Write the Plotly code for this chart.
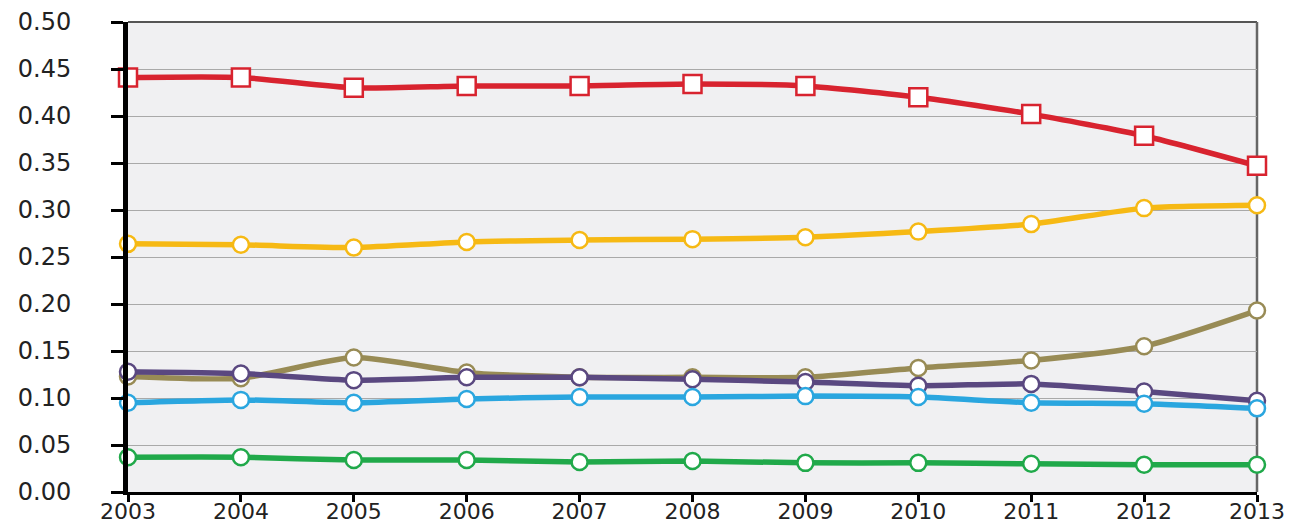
import plotly.graph_objects as go

years = [2003, 2004, 2005, 2006, 2007, 2008, 2009, 2010, 2011, 2012, 2013]

red    = [0.441, 0.441, 0.430, 0.432, 0.432, 0.434, 0.432, 0.420, 0.402, 0.379, 0.347]
yellow = [0.264, 0.263, 0.260, 0.266, 0.268, 0.269, 0.271, 0.277, 0.285, 0.302, 0.305]
olive  = [0.123, 0.121, 0.143, 0.127, 0.122, 0.122, 0.122, 0.132, 0.140, 0.155, 0.193]
purple = [0.128, 0.126, 0.119, 0.122, 0.122, 0.120, 0.117, 0.113, 0.115, 0.107, 0.097]
blue   = [0.095, 0.098, 0.095, 0.099, 0.101, 0.101, 0.102, 0.101, 0.095, 0.094, 0.089]
green  = [0.037, 0.037, 0.034, 0.034, 0.032, 0.033, 0.031, 0.031, 0.030, 0.029, 0.029]

y_ticks = [0.0, 0.05, 0.10, 0.15, 0.20, 0.25, 0.30, 0.35, 0.40, 0.45, 0.50]

series = [
    (red, "#d8232f", "square", 18),
    (yellow, "#f6b914", "circle", 16),
    (olive, "#988b55", "circle", 16),
    (purple, "#5a4880", "circle", 16),
    (blue, "#2aa6df", "circle", 16),
    (green, "#20a94a", "circle", 16),
]

fig = go.Figure()
for vals, col, sym, sz in series:
    fig.add_trace(go.Scatter(
        x=years, y=vals, mode="lines+markers",
        line=dict(color=col, width=5.5, shape="spline", smoothing=0.6),
        marker=dict(symbol=sym, size=sz, color="white", line=dict(color=col, width=2.5)),
        cliponaxis=False, showlegend=False,
    ))

# top and right border of the plot area
fig.add_shape(type="line", xref="paper", yref="paper", x0=0, x1=1, y0=1, y1=1,
              line=dict(color="#555555", width=2), layer="below")
fig.add_shape(type="line", xref="paper", yref="paper", x0=1, x1=1, y0=0, y1=1,
              line=dict(color="#666666", width=2.5), layer="below")

# page body has an 8px margin, so the figure is a bit smaller than the window
fig.update_layout(
    width=1292, height=518,
    margin=dict(l=120, r=43, t=14, b=34),
    paper_bgcolor="white",
    plot_bgcolor="#f0f0f2",
    font=dict(family="DejaVu Sans", size=24, color="#222222"),
    xaxis=dict(
        range=[2003, 2013], tickmode="array", tickvals=years,
        showgrid=False, zeroline=False, automargin=False,
        showline=True, linecolor="black", linewidth=3,
        ticks="outside", ticklen=7, tickwidth=3, tickcolor="black",
        tickfont=dict(size=22), ticklabelstandoff=-9,
    ),
    yaxis=dict(
        range=[0, 0.5], tickmode="array", tickvals=y_ticks,
        tickformat=".2f", automargin=False,
        showgrid=True, gridcolor="#a9a9a9", gridwidth=1, zeroline=False,
        showline=True, linecolor="black", linewidth=5,
        ticks="outside", ticklen=12, tickwidth=3, tickcolor="black",
        ticklabelstandoff=35,
    ),
)

fig.write_html("out.html")
